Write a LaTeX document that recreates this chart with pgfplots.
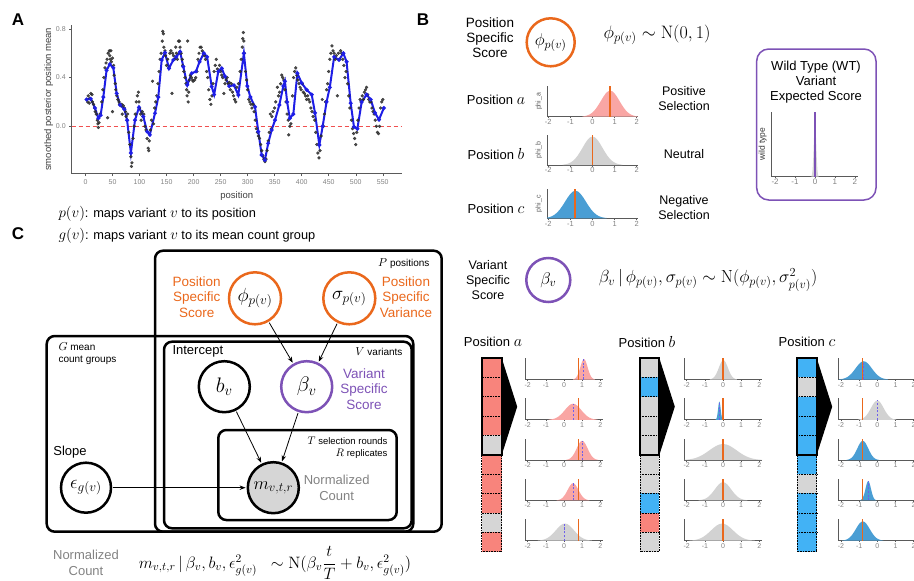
\RequirePackage{fix-cm}
\documentclass[border=0pt]{standalone}
\usepackage[no-math]{fontspec}
\setmainfont{Liberation Sans}
\usepackage{amsmath}
\usepackage{pgfplots}
\usepackage{pgfplotstable}
\pgfplotsset{compat=1.18}
\usetikzlibrary{arrows.meta}

\definecolor{orng}{RGB}{234,104,28}
\definecolor{purp}{RGB}{125,82,182}
\definecolor{dpur}{RGB}{110,95,235}
\definecolor{pinkc}{RGB}{248,132,124}
\definecolor{pinkd}{RGB}{249,166,164}
\definecolor{bluec}{RGB}{66,178,245}
\definecolor{blued}{RGB}{74,158,212}
\definecolor{grayc}{RGB}{214,214,214}
\definecolor{grayd}{RGB}{210,210,210}
\definecolor{axg}{RGB}{90,90,90}
\definecolor{txg}{RGB}{130,130,130}
\definecolor{ptc}{RGB}{45,45,45}
\definecolor{lnb}{RGB}{30,30,230}
\definecolor{redd}{RGB}{240,80,80}

\newcommand{\fs}[2]{\fontsize{#1}{#2}\selectfont}
\newcommand{\bm}[2]{{\fontsize{#1}{#1}\selectfont$#2$}}

\pgfplotstableread{
z g
-3 0.0111
-2.75 0.0228
-2.5 0.0439
-2.25 0.0796
-2 0.1353
-1.75 0.2163
-1.5 0.3247
-1.25 0.4578
-1 0.6065
-0.75 0.7548
-0.5 0.8825
-0.25 0.9692
0 1
0.25 0.9692
0.5 0.8825
0.75 0.7548
1 0.6065
1.25 0.4578
1.5 0.3247
1.75 0.2163
2 0.1353
2.25 0.0796
2.5 0.0439
2.75 0.0228
3 0.0111
}\gauss

\pgfplotsset{
 mini/.style={scale only axis, anchor=south west, axis lines=left,
   axis line style={-, axg, line width=0.7pt}, ytick=\empty,
   xtick={-2,-1,0,1,2}, xticklabels={-2,-1,0,1,2}, ymin=0, ymax=1,
   tick align=outside, tick style={axg, line width=0.5pt}, major tick length=1.5pt,
   tick label style={font=\fs{7}{7}, text=txg, inner sep=1pt}},
}

\newcommand{\dens}[4]{\addplot[fill=#4, draw=none] table[x expr={#1+\thisrow{z}*#2}, y expr={\thisrow{g}*#3}] {\gauss} \closedcycle;}

\newcommand{\botplot}[7]{%
\begin{axis}[mini, at={(#1pt,-#2pt)}, width=78pt, height=21.5pt, xmin=-2.15, xmax=2.15]
\dens{#4}{#5}{#6}{#3}
\addplot[dpur, line width=1pt, dash pattern=on 2.2pt off 1.5pt] coordinates {(#4,0) (#4,#6)};
\addplot[orng, line width=1.4pt] coordinates {(#7,0) (#7,1)};
\end{axis}}

\newcommand{\strip}[3]{%
 \foreach \c [count=\i from 0] in {#3} {\fill[\c] (#1,{-358-\i*19.35}) rectangle (#2,{-358-(\i+1)*19.35});}
 \foreach \i in {1,...,9} {\draw[densely dotted, line width=0.6pt] (#1,{-358-\i*19.35}) -- (#2,{-358-\i*19.35});}
 \draw[densely dotted, line width=0.6pt] (#1,-454.75) -- (#1,-551.5) -- (#2,-551.5) -- (#2,-454.75);
 \fill (#2,-358) -- ({#2+15.5},-406.7) -- (#2,-455) -- cycle;
 \draw[line width=2.2pt] (#1,-358) rectangle (#2,-454.75);
}

\begin{document}
\begin{tikzpicture}[x=1pt,y=1pt]
\useasboundingbox (0,0) rectangle (914,-581);
\clip (0,0) rectangle (914,-581);

% panel letters
\node[font=\fs{17}{17}\bfseries] at (18,-20) {A};
\node[font=\fs{17}{17}\bfseries] at (423,-20) {B};
\node[font=\fs{17}{17}\bfseries] at (18,-234) {C};

% ---------------- Panel A ----------------
\begin{axis}[at={(71.7pt,-173.5pt)}, anchor=south west, scale only axis, width=330pt, height=148.5pt,
 xmin=-25.5, xmax=585, ymin=-0.388, ymax=0.832,
 axis lines=left, axis line style={-, axg, line width=0.9pt},
 tick align=outside, major tick length=2.5pt, tick style={axg, line width=0.5pt},
 xtick={0,50,...,550}, xticklabels={0,50,100,150,200,250,300,350,400,450,500,550},
 ytick={0,0.4,0.8}, yticklabels={0.0,0.4,0.8},
 tick label style={font=\fs{7}{8}, text=txg},
 xlabel={position}, ylabel={smoothed posterior position mean},
 label style={font=\fs{9.5}{10}, text=black!75},
 ylabel style={yshift=-4pt},
 clip=false]
\addplot[redd, line width=1.1pt, dash pattern=on 4pt off 3pt] coordinates {(-25.5,0) (585,0)};
\addplot[only marks, mark=*, mark size=1.45pt, color=ptc, fill opacity=0.85, draw opacity=0.85] coordinates {
(2,0.22)(4,0.20)(5,0.25)(7,0.19)(8,0.23)(10,0.27)(12,0.26)(13,0.20)(15,0.18)(17,0.15)(18,0.12)(20,0.10)(22,0.05)(23,0.02)(24,-0.01)(25,0.03)(27,0.10)(30,0.20)(32,0.30)(34,0.40)(36,0.48)(38,0.52)(40,0.55)(41,0.07)(42,0.60)(44,0.62)(45,0.58)(46,0.55)(47,0.62)(48,0.53)(50,0.56)(50,0.12)(52,0.50)(53,0.42)(55,0.35)(56,0.30)(58,0.25)(60,0.22)(62,0.20)(63,0.18)(65,0.17)(67,0.18)(68,0.10)(70,0.17)(72,0.15)(74,0.12)(75,0.08)(77,0.05)(78,0.10)(80,-0.05)(82,-0.15)(84,-0.25)(85,-0.33)(86,-0.30)(88,-0.10)(90,0.00)(92,0.10)(94,0.20)(96,0.25)(98,0.28)(99,0.20)(100,0.15)(102,0.10)(103,0.05)(105,0.12)(106,0.08)(108,0.10)(110,0.00)(112,-0.03)(114,-0.10)(116,-0.18)(117,-0.20)(118,-0.12)(120,-0.03)(122,0.05)(124,0.37)(126,0.02)(128,0.15)(130,0.20)(132,0.25)(134,0.35)(136,0.45)(138,0.55)(140,0.60)(142,0.70)(143,0.78)(144,0.76)(145,0.65)(147,0.62)(148,0.58)(150,0.50)(152,0.55)(154,0.48)(156,0.60)(158,0.62)(160,0.27)(161,0.60)(163,0.58)(165,0.55)(167,0.65)(168,0.60)(170,0.55)(172,0.70)(174,0.70)(175,0.65)(177,0.60)(179,0.55)(180,0.50)(182,0.45)(184,0.40)(186,0.35)(187,0.30)(188,0.25)(189,0.70)(190,0.20)(191,0.28)(192,0.38)(194,0.42)(196,0.40)(198,0.38)(199,0.37)(202,0.38)(204,0.40)(206,0.45)(208,0.55)(210,0.60)(212,0.65)(214,0.65)(216,0.62)(218,0.60)(220,0.58)(222,0.55)(224,0.45)(226,0.40)(228,0.30)(230,0.22)(232,0.18)(234,0.25)(236,0.35)(238,0.45)(240,0.50)(242,0.55)(244,0.47)(246,0.45)(248,0.50)(250,0.45)(252,0.42)(254,0.40)(256,0.27)(258,0.35)(260,0.38)(262,0.40)(264,0.35)(266,0.36)(268,0.30)(270,0.35)(272,0.28)(274,0.25)(276,0.22)(278,0.20)(280,0.32)(283,0.35)(286,0.45)(288,0.55)(290,0.65)(291,0.72)(292,0.77)(293,0.70)(294,0.60)(296,0.45)(298,0.38)(300,0.30)(302,0.22)(304,0.20)(306,0.18)(308,0.15)(310,0.18)(312,0.12)(314,0.05)(316,-0.02)(318,-0.05)(320,-0.08)(322,-0.10)(324,-0.15)(326,-0.20)(328,-0.24)(330,-0.27)(332,-0.29)(334,-0.27)(336,-0.20)(338,-0.12)(340,-0.05)(342,0.10)(344,-0.02)(345,0.08)(347,0.12)(350,0.15)(352,0.20)(355,0.32)(357,0.25)(359,0.28)(361,0.35)(363,0.42)(365,0.40)(367,0.38)(369,0.30)(371,0.20)(373,0.10)(375,0.05)(376,-0.07)(378,0.00)(380,0.02)(383,0.25)(385,0.40)(387,0.45)(389,0.48)(391,0.42)(393,0.38)(395,0.35)(397,0.32)(399,0.30)(401,0.35)(403,0.28)(405,0.27)(407,0.25)(409,0.22)(411,0.25)(413,0.22)(415,0.20)(417,0.15)(419,0.12)(421,0.08)(424,0.05)(426,-0.05)(428,-0.15)(430,-0.22)(432,-0.26)(434,-0.20)(436,-0.08)(438,0.22)(440,0.00)(442,0.10)(444,0.20)(446,0.30)(448,0.35)(450,0.45)(452,0.55)(454,0.60)(456,0.66)(458,0.62)(460,0.60)(462,0.55)(464,0.58)(466,0.25)(468,0.60)(470,0.55)(472,0.62)(474,0.60)(476,0.55)(478,0.50)(480,0.40)(482,0.45)(485,0.35)(487,0.25)(489,0.15)(492,0.05)(494,-0.02)(496,-0.06)(498,-0.10)(500,-0.15)(502,-0.05)(504,0.05)(506,0.15)(508,0.22)(510,0.20)(512,0.25)(514,0.22)(516,0.28)(518,0.30)(520,0.32)(522,0.26)(524,0.22)(526,0.20)(528,0.20)(530,0.15)(532,0.12)(534,0.10)(536,0.05)(538,0.00)(540,-0.05)(542,-0.06)(544,0.00)(546,0.15)(548,0.20)(550,0.22)
};
\addplot[lnb, line width=2pt, mark=*, mark size=0.8pt] coordinates {
(2,0.22)(9.6,0.225)(17.6,0.15)(23.7,0.066)(28,0.09)(33,0.24)(39,0.46)(45,0.51)(51.5,0.48)(57.7,0.27)(64,0.175)(72,0.14)(77,0.05)(84,-0.22)(91.6,0.05)(99,0.156)(107,0.08)(114,-0.044)(119,-0.07)(128.6,0.107)(134.7,0.24)(141,0.545)(147,0.605)(154.5,0.476)(162.5,0.545)(168,0.57)(175,0.613)(181,0.49)(188.4,0.34)(196.4,0.435)(204.4,0.45)(211,0.53)(219,0.6)(225,0.57)(233.5,0.325)(238,0.26)(245.7,0.45)(252,0.476)(258,0.41)(266,0.33)(274.7,0.337)(282.7,0.257)(293,0.6)(299.4,0.33)(305,0.24)(313.6,0.16)(319.7,-0.044)(326,-0.236)(332,-0.277)(338,-0.14)(344.5,-0.03)(350.6,0.05)(358.6,0.175)(366,0.33)(369,0.37)(373,0.2)(378,0.066)(384.5,0.1)(392,0.435)(400,0.355)(409,0.30)(418.5,0.26)(424.6,0.11)(432.6,-0.154)(438.8,0.0)(446,0.2)(452,0.32)(460,0.57)(469,0.545)(477,0.6)(483,0.53)(490.6,0.19)(496.7,-0.005)(503,-0.02)(511,0.2)(520,0.26)(527.6,0.22)(535.6,0.11)(543,0.055)(552,0.15)
};
\end{axis}

\node[anchor=west, font=\fs{12.8}{14}] at (55,-214) {\bm{15}{p(v)}: maps variant \bm{15}{v} to its position};
\node[anchor=west, font=\fs{12.8}{14}] at (55,-236) {\bm{15}{g(v)}: maps variant \bm{15}{v} to its mean count group};

% ---------------- Panel C ----------------
\draw[line width=2.5pt, rounded corners=8pt] (155,-250.7) rectangle (441.7,-531.7);
\draw[line width=2.5pt, rounded corners=8pt] (46.7,-336) rectangle (413.3,-531.7);
\draw[line width=2.5pt, rounded corners=8pt] (164,-341.7) rectangle (411.7,-528.3);
\draw[line width=2.5pt, rounded corners=8pt] (218.3,-430) rectangle (396.7,-520);

\node[circle, draw=orng, line width=2.5pt, minimum size=52pt, inner sep=0pt, font=\fs{19}{19}, fill=white] (phi) at (255,-298.3) {$\phi_{p(v)}$};
\node[circle, draw=orng, line width=2.5pt, minimum size=52pt, inner sep=0pt, font=\fs{19}{19}, fill=white] (sig) at (349.3,-298.3) {$\sigma_{p(v)}$};
\node[circle, draw=black, line width=2.5pt, minimum size=51pt, inner sep=0pt, font=\fs{21}{21}, fill=white] (bv) at (224.3,-386.7) {$b_v$};
\node[circle, draw=purp, line width=2.5pt, minimum size=51pt, inner sep=0pt, font=\fs{21}{21}, fill=white] (beta) at (306.7,-386.7) {$\beta_v$};
\node[circle, draw=black, line width=2.5pt, minimum size=51pt, inner sep=0pt, font=\fs{18}{18}, fill=grayc] (m) at (273.3,-487.7) {$m_{v,t,r}$};
\node[circle, draw=black, line width=2.5pt, minimum size=50pt, inner sep=0pt, font=\fs{19}{19}, fill=white] (eps) at (86,-487.7) {$\epsilon_{g(v)}$};

\draw[-{Stealth[length=6pt,width=4.5pt]}, line width=0.8pt, shorten <=1pt, shorten >=1pt] (phi) -- (beta);
\draw[-{Stealth[length=6pt,width=4.5pt]}, line width=0.8pt, shorten <=1pt, shorten >=1pt] (sig) -- (beta);
\draw[-{Stealth[length=6pt,width=4.5pt]}, line width=0.8pt, shorten <=1pt, shorten >=1pt] (bv) -- (m);
\draw[-{Stealth[length=6pt,width=4.5pt]}, line width=0.8pt, shorten <=1pt, shorten >=1pt] (beta) -- (m);
\draw[-{Stealth[length=6pt,width=4.5pt]}, line width=0.8pt, shorten <=1pt, shorten >=1pt] (eps) -- (m);

\node[anchor=east, font=\fs{10}{10}] at (433,-263.3) {\bm{11.5}{P} positions};
\node[align=center, text=orng, font=\fs{13.5}{15.5}] at (196.7,-297) {Position\\Specific\\Score};
\node[align=center, text=orng, font=\fs{13.5}{15.5}] at (406,-297) {Position\\Specific\\Variance};
\node[anchor=north west, align=left, font=\fs{10}{12.6}] at (55,-339) {\bm{11.5}{G} mean\\count groups};
\node[anchor=west, font=\fs{13}{13}] at (169,-351.7) {Intercept};
\node[anchor=east, font=\fs{10}{10}] at (406,-352) {\bm{11.5}{V} variants};
\node[align=center, text=purp, font=\fs{13.5}{15.5}] at (364,-389) {Variant\\Specific\\Score};
\node[anchor=north east, align=right, font=\fs{9.5}{12.3}] at (391,-433) {\bm{11}{T} selection rounds\\\bm{11}{R} replicates};
\node[align=center, text=txg, font=\fs{13}{15.5}] at (336.7,-488) {Normalized\\Count};
\node[font=\fs{13}{13}] at (70,-451.7) {Slope};

\node[align=center, text=txg, font=\fs{13}{15.5}] at (86,-563) {Normalized\\Count};
\node[font=\fs{16.5}{18}] at (275,-563) {$m_{v,t,r}\,|\,\beta_v, b_v, \epsilon^2_{g(v)}\ \ \sim \mathrm{N}(\beta_v \dfrac{t}{T} + b_v, \epsilon^2_{g(v)})$};

% ---------------- Panel B ----------------
\node[align=center, font=\fs{13.5}{15}] at (490,-37.7) {Position\\Specific\\Score};
\draw[orng, line width=2.5pt] (550.7,-42.3) circle (24);
\node[font=\fs{17}{17}] at (550.7,-42.3) {$\phi_{p(v)}$};
\node[font=\fs{18}{18}] at (657,-35) {$\phi_{p(v)}\sim\mathrm{N}(0,1)$};

\node[font=\fs{13}{13}] at (496,-100) {Position \bm{16}{a}};
\node[font=\fs{13}{13}] at (496,-154) {Position \bm{16}{b}};
\node[font=\fs{13}{13}] at (496,-209.3) {Position \bm{16}{c}};
\node[align=center, font=\fs{12.5}{15.5}] at (684,-98.7) {Positive\\Selection};
\node[font=\fs{12.5}{15.5}] at (684,-154) {Neutral};
\node[align=center, font=\fs{12.5}{15.5}] at (684,-207.5) {Negative\\Selection};

\begin{axis}[mini, at={(547pt,-116.7pt)}, width=91pt, height=30.7pt, xmin=-2.06, xmax=2.06, ylabel={phi\_a}, ylabel style={font=\fs{7}{7}, text=axg}, tick label style={font=\fs{7.5}{7.5}}]
\dens{0.8}{0.42}{0.85}{pinkd}
\addplot[orng, line width=1.4pt] coordinates {(0.8,0) (0.8,1)};
\end{axis}
\begin{axis}[mini, at={(547pt,-165pt)}, width=91pt, height=30pt, xmin=-2.06, xmax=2.06, ylabel={phi\_b}, ylabel style={font=\fs{7}{7}, text=axg}, tick label style={font=\fs{7.5}{7.5}}]
\dens{0}{0.45}{0.95}{grayd}
\addplot[orng, line width=1.4pt] coordinates {(0,0) (0,1)};
\end{axis}
\begin{axis}[mini, at={(547pt,-218.3pt)}, width=91pt, height=29pt, xmin=-2.06, xmax=2.06, ylabel={phi\_c}, ylabel style={font=\fs{7}{7}, text=axg}, tick label style={font=\fs{7.5}{7.5}}]
\dens{-0.77}{0.47}{0.95}{blued}
\addplot[orng, line width=1.4pt] coordinates {(-0.8,0) (-0.8,1)};
\end{axis}

\draw[purp, line width=1.5pt, rounded corners=12pt] (756.7,-49) rectangle (876,-200);
\node[align=center, font=\fs{13}{15}] at (816,-82) {Wild Type (WT)\\Variant\\Expected Score};
\begin{axis}[mini, at={(771.7pt,-176.7pt)}, width=86.6pt, height=65pt, xmin=-2.17, xmax=2.17, ylabel={wild type}, ylabel style={font=\fs{8.5}{8.5}, text=black!80}, tick label style={font=\fs{8}{8}}]
\dens{0}{0.06}{0.85}{grayc}
\addplot[purp, line width=1.3pt] coordinates {(0,0) (0,1)};
\end{axis}

\node[align=center, font=\fs{12.5}{15}] at (488,-280) {Variant\\Specific\\Score};
\draw[purp, line width=2.5pt] (548.3,-280) circle (22);
\node[font=\fs{17}{17}] at (548.3,-280) {$\beta_v$};
\node[font=\fs{17.5}{17.5}] at (708,-280) {$\beta_v\,|\,\phi_{p(v)},\sigma_{p(v)} \sim \mathrm{N}(\phi_{p(v)},\sigma^2_{p(v)})$};

\node[font=\fs{13}{13}] at (493,-342) {Position \bm{16}{a}};
\node[font=\fs{13}{13}] at (647,-342) {Position \bm{16}{b}};
\node[font=\fs{13}{13}] at (807,-342) {Position \bm{16}{c}};

\strip{481.7}{501.7}{pinkc,pinkc,pinkc,pinkc,grayc,pinkc,pinkc,pinkc,grayc,pinkc}
\strip{640}{659.3}{grayc,bluec,grayc,grayc,grayc,grayc,grayc,bluec,pinkc,grayc}
\strip{797.3}{816.7}{bluec,grayc,bluec,bluec,bluec,bluec,grayc,bluec,bluec,bluec}

% column a (orange at 0.8)
\botplot{525}{379.5}{pinkd}{1.1}{0.2}{0.95}{0.8}
\botplot{525}{419.8}{pinkd}{0.5}{0.45}{0.75}{0.8}
\botplot{525}{460.1}{pinkd}{1.0}{0.3}{0.9}{0.8}
\botplot{525}{500.4}{pinkd}{0.5}{0.3}{0.8}{0.8}
\botplot{525}{540.7}{grayd}{0.05}{0.5}{0.8}{0.8}
% column b (orange at 0)
\botplot{684}{379.5}{grayd}{0.02}{0.25}{0.9}{0}
\botplot{684}{419.8}{blued}{-0.2}{0.07}{0.85}{0}
\botplot{684}{460.1}{grayd}{0}{0.75}{0.75}{0}
\botplot{684}{500.4}{grayd}{0}{0.45}{0.85}{0}
\botplot{684}{540.7}{grayd}{-0.05}{0.6}{0.8}{0}
% column c (orange at -0.8)
\botplot{838.3}{379.5}{blued}{-0.75}{0.45}{0.85}{-0.8}
\botplot{838.3}{419.8}{grayd}{0}{0.35}{0.9}{-0.8}
\botplot{838.3}{460.1}{blued}{-0.8}{0.3}{0.9}{-0.8}
\botplot{838.3}{500.4}{blued}{-0.5}{0.15}{0.9}{-0.8}
\botplot{838.3}{540.7}{blued}{-0.8}{0.38}{0.9}{-0.8}

\end{tikzpicture}
\end{document}
